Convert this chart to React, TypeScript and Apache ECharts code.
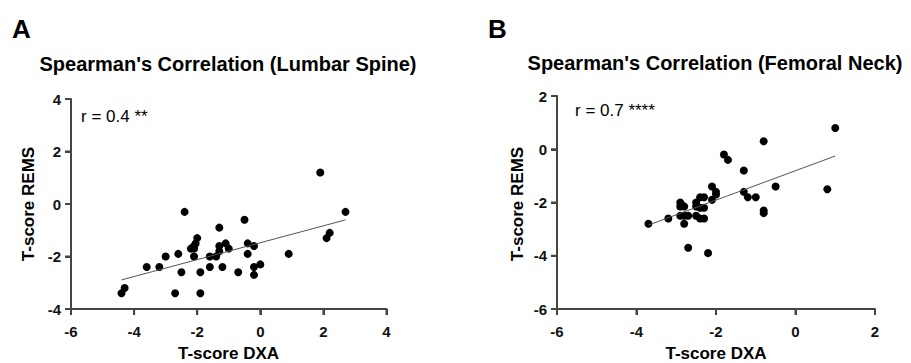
import React, { useEffect, useRef } from "react";
import * as echarts from "echarts";

// Panel A: Lumbar Spine
const xA = [1.9, -2.4, 2.7, -0.5, -1.3, 2.2, 2.1, -2.0, -2.05, -2.1, -2.2, -2.1, -2.1, -1.3, -1.1, -1.3, -1.0, -0.4, -0.2, -0.4, -1.4, -1.6, -2.6, -3.0, -3.6, -3.2, -2.5, -1.9, -1.6, -1.2, -0.7, -0.2, 0.0, -0.2, 0.9, -2.7, -1.9, -4.4, -4.3];
const yA = [1.2, -0.3, -0.3, -0.6, -0.9, -1.1, -1.3, -1.3, -1.5, -1.6, -1.7, -1.7, -2.0, -1.6, -1.5, -1.8, -1.7, -1.5, -1.6, -1.9, -2.0, -2.0, -1.9, -2.0, -2.4, -2.4, -2.6, -2.6, -2.4, -2.4, -2.6, -2.4, -2.3, -2.7, -1.9, -3.4, -3.4, -3.4, -3.2];
const fitA = { slope: 0.322, intercept: -1.475 };

// Panel B: Femoral Neck
const xB = [-3.7, -3.2, -2.9, -2.9, -2.85, -2.8, -2.9, -2.8, -2.7, -2.8, -2.7, -2.2, -2.5, -2.4, -2.3, -2.5, -2.4, -2.3, -2.5, -2.4, -2.3, -2.1, -2.1, -2.0, -2.0, -1.8, -1.7, -1.3, -1.3, -1.2, -1.0, -0.8, -0.8, -0.8, -0.5, 0.8, 1.0];
const yB = [-2.8, -2.6, -2.0, -2.15, -2.1, -2.15, -2.5, -2.5, -2.5, -2.8, -3.7, -3.9, -2.0, -1.8, -1.8, -2.15, -2.2, -2.2, -2.5, -2.6, -2.6, -1.4, -1.9, -1.6, -1.7, -0.2, -0.4, -0.8, -1.6, -1.8, -1.8, 0.3, -2.3, -2.4, -1.4, -1.5, 0.8];
const fitB = { slope: 0.552, intercept: -0.806 };

const xTicksA = { min: -6, max: 4, interval: 2 };
const yTicksA = { min: -4, max: 4, interval: 2 };
const xTicksB = { min: -6, max: 2, interval: 2 };
const yTicksB = { min: -6, max: 2, interval: 2 };

const titleA = "Spearman's Correlation (Lumbar Spine)";
const titleB = "Spearman's Correlation (Femoral Neck)";
const annA = "r = 0.4 **";
const annB = "r = 0.7 ****";
const xName = "T-score DXA";
const yName = "T-score REMS";

const FONT = "'Liberation Sans', Arial, Helvetica, sans-serif";
const INK = "#444";

type Ticks = { min: number; max: number; interval: number };

function tickValues(t: Ticks) {
  const out: number[] = [];
  for (let v = t.min; v <= t.max + 1e-9; v += t.interval) out.push(v);
  return out;
}

function fitLine(xs: number[], fit: { slope: number; intercept: number }) {
  const lo = Math.min(...xs);
  const hi = Math.max(...xs);
  return [
    [lo, fit.slope * lo + fit.intercept],
    [hi, fit.slope * hi + fit.intercept],
  ];
}

function makeAxis(gridIndex: number, ticks: Ticks, margin: number) {
  return {
    type: "value",
    gridIndex,
    min: ticks.min,
    max: ticks.max,
    interval: ticks.interval,
    axisLine: { show: true, onZero: false, lineStyle: { color: INK, width: 2 } },
    axisTick: { show: true, length: 6, lineStyle: { color: INK, width: 2 } },
    splitLine: { show: false },
    axisLabel: { show: true, margin, color: "#111", fontWeight: "bold", fontSize: 15, fontFamily: FONT },
  };
}

// Axis frame and ticks also drawn as series through the chart's own scales
function axisSeries(idx: number, xt: Ticks, yt: Ticks) {
  return [
    {
      type: "line",
      xAxisIndex: idx,
      yAxisIndex: idx,
      clip: false,
      data: [
        [xt.max, yt.min],
        [xt.min, yt.min],
        [xt.min, yt.max],
      ],
      symbol: "none",
      lineStyle: { color: INK, width: 2 },
    },
    {
      type: "scatter",
      xAxisIndex: idx,
      yAxisIndex: idx,
      clip: false,
      data: tickValues(xt).map((v) => [v, yt.min]),
      symbol: "rect",
      symbolSize: [2, 6],
      symbolOffset: [0, 3],
      itemStyle: { color: INK, opacity: 1 },
    },
    {
      type: "scatter",
      xAxisIndex: idx,
      yAxisIndex: idx,
      clip: false,
      data: tickValues(yt).map((v) => [xt.min, v]),
      symbol: "rect",
      symbolSize: [6, 2],
      symbolOffset: [-3, 0],
      itemStyle: { color: INK, opacity: 1 },
    },
  ];
}

export default function App() {
  const ref = useRef<HTMLDivElement>(null);
  useEffect(() => {
    if (!ref.current) return;
    const chart = echarts.init(ref.current, undefined, { renderer: "svg" });
    const txt = (x: number, y: number, text: string, size: number, bold: boolean, align = "left", rotation = 0) => ({
      type: "text",
      x,
      y,
      rotation,
      style: {
        text,
        fill: "#000",
        font: `${bold ? "bold " : ""}${size}px ${FONT}`,
        align,
        verticalAlign: "middle",
      },
    });
    chart.setOption({
      animation: false,
      grid: [
        { left: 71, top: 99, width: 315.5, height: 210 },
        { left: 557, top: 96, width: 318, height: 213 },
      ],
      xAxis: [makeAxis(0, xTicksA, 15), makeAxis(1, xTicksB, 15)],
      yAxis: [makeAxis(0, yTicksA, 10), makeAxis(1, yTicksB, 10)],
      series: [
        {
          type: "line",
          xAxisIndex: 0,
          yAxisIndex: 0,
          data: fitLine(xA, fitA),
          symbol: "none",
          lineStyle: { color: "#555", width: 1 },
        },
        {
          type: "scatter",
          xAxisIndex: 0,
          yAxisIndex: 0,
          data: xA.map((x, i) => [x, yA[i]]),
          symbolSize: 8,
          itemStyle: { color: "#000", opacity: 1 },
        },
        {
          type: "line",
          xAxisIndex: 1,
          yAxisIndex: 1,
          data: fitLine(xB, fitB),
          symbol: "none",
          lineStyle: { color: "#555", width: 1 },
        },
        {
          type: "scatter",
          xAxisIndex: 1,
          yAxisIndex: 1,
          data: xB.map((x, i) => [x, yB[i]]),
          symbolSize: 8,
          itemStyle: { color: "#000", opacity: 1 },
        },
        ...axisSeries(0, xTicksA, yTicksA),
        ...axisSeries(1, xTicksB, yTicksB),
      ],
      graphic: [
        txt(12, 29, "A", 26, true),
        txt(488, 29, "B", 26, true),
        txt(228, 64, titleA, 20, true, "center"),
        txt(715, 63, titleB, 20, true, "center"),
        txt(81, 116, annA, 17, false),
        txt(575, 110, annB, 17, false),
        txt(228.5, 353, xName, 17, true, "center"),
        txt(716, 353, xName, 17, true, "center"),
        txt(28, 204, yName, 17, true, "center", Math.PI / 2),
        txt(517, 204, yName, 17, true, "center", Math.PI / 2),
      ],
    });
    return () => chart.dispose();
  }, []);
  return (
    <div
      ref={ref}
      style={{ position: "fixed", left: 0, top: 0, width: 911, height: 363, background: "#fff" }}
    />
  );
}
